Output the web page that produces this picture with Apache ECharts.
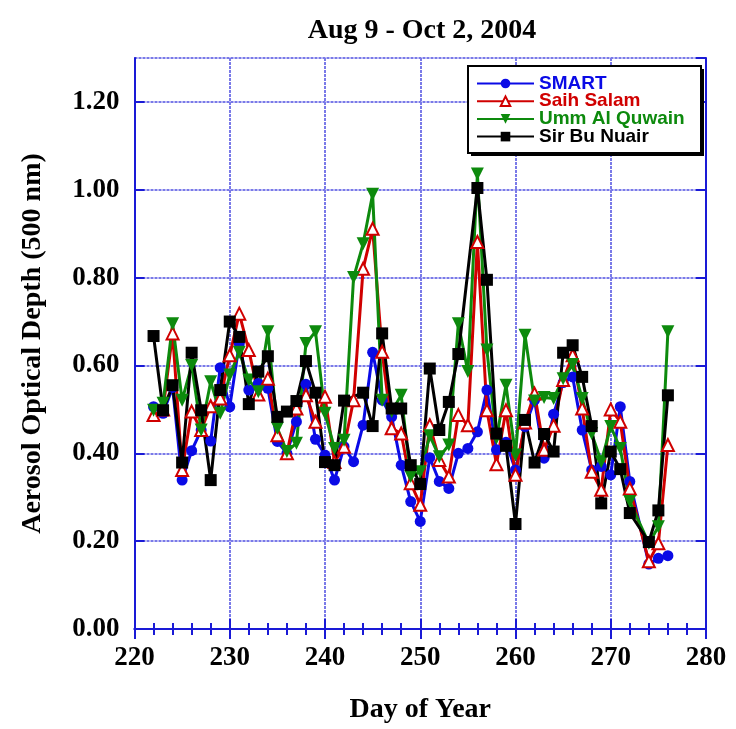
<!DOCTYPE html>
<html>
<head>
<meta charset="utf-8">
<script src="https://cdn.jsdelivr.net/npm/echarts@6/dist/echarts.min.js"></script>
<style>html,body{margin:0;padding:0;background:#fff;}#c{width:736px;height:729px;}</style>
</head>
<body>
<div id="c"></div>
<script>
var days = [222,223,224,225,226,227,228,229,230,231,232,233,234,235,236,237,238,239,240,241,242,243,244,245,246,247,248,249,250,251,252,253,254,255,256,257,258,259,260,261,262,263,264,265,266,267,268,269,270,271,272,273,274,275,276];
var smart = [0.506,0.491,0.55,0.339,0.406,0.453,0.428,0.595,0.506,0.65,0.544,0.559,0.548,0.427,0.40,0.472,0.557,0.432,0.396,0.339,0.415,0.381,0.464,0.63,0.521,0.483,0.373,0.29,0.245,0.39,0.336,0.32,0.40,0.411,0.449,0.544,0.408,0.425,0.362,0.461,0.521,0.389,0.489,0.561,0.574,0.453,0.362,0.37,0.351,0.506,0.336,null,0.148,0.161,0.167];
var saihSalam = [0.487,0.50,0.673,0.362,0.495,0.453,0.507,0.525,0.623,0.718,0.635,0.534,0.57,0.441,0.40,0.502,0.532,0.472,0.529,0.38,0.415,0.521,0.82,0.911,0.631,0.457,0.445,0.332,0.283,0.464,0.385,0.347,0.487,0.464,0.881,0.498,0.375,0.498,0.351,0.47,0.536,0.408,0.463,0.567,0.623,0.502,0.358,0.317,0.50,0.472,0.32,null,0.154,0.195,0.419];
var ummAlQuwain = [0.498,0.514,0.695,0.521,0.60,0.453,0.563,0.491,0.578,0.63,0.567,0.54,0.677,0.457,0.404,0.423,0.65,0.677,0.491,0.411,0.43,0.80,0.877,0.99,0.521,0.495,0.532,0.347,0.358,0.44,0.392,0.419,0.695,0.586,1.036,0.635,0.434,0.555,0.396,0.669,0.519,0.527,0.525,0.57,0.602,0.525,0.445,0.381,0.461,0.411,0.29,null,0.195,0.233,0.677];
var sirBuNuair = [0.667,0.498,0.555,0.379,0.629,0.498,0.339,0.544,0.70,0.665,0.512,0.586,0.621,0.483,0.495,0.519,0.61,0.538,0.38,0.373,0.52,null,0.538,0.462,0.673,0.502,0.502,0.373,0.33,0.593,0.453,0.517,0.626,null,1.004,0.795,0.445,0.417,0.239,0.476,0.379,0.444,0.404,0.629,0.646,0.574,0.462,0.286,0.404,0.364,0.264,null,0.198,0.27,0.532];
var seriesNames = ['SMART','Saih Salam','Umm Al Quwain','Sir Bu Nuair'];
var yTicks = ['0.00','0.20','0.40','0.60','0.80','1.00','1.20'];

function pairs(vals){ return days.map(function(d,i){ return [d, vals[i]]; }); }

var BLUE='#0a0ae6', RED='#d00000', GREEN='#0d8a0d', BLACK='#000000';
var AXIS='#1a1ad6', GRID='#7a7ae8';
var chart = echarts.init(document.getElementById('c'), null, {renderer:'canvas'});
var serif = '"Liberation Serif", "Times New Roman", serif';
var tickFont = {fontFamily:serif, fontWeight:'bold', fontSize:27, color:'#000'};

chart.setOption({
  animation:false,
  backgroundColor:'#fff',
  title:{text:'Aug 9 - Oct 2, 2004', left:417, top:12, textAlign:'center',
    textStyle:{fontFamily:serif, fontWeight:'bold', fontSize:28, color:'#000'}},
  grid:{left:134.5, right:30, top:58, bottom:98, containLabel:false},
  graphic:[
    {type:'rect', z:3, shape:{x:471, y:69, width:233, height:87}, style:{fill:'#000'}},
    {type:'rect', z:3, shape:{x:468, y:66, width:233, height:87}, style:{fill:'#fff', stroke:'#000', lineWidth:2}}
  ],
  legend:{
    z:10, orient:'vertical', left:476, top:74, itemWidth:57, itemHeight:12, itemGap:-1.3, padding:0,
    textStyle:{fontFamily:'"Liberation Sans", Arial, sans-serif', fontWeight:'bold', fontSize:19, lineHeight:17.3, padding:[0,0,0,0]},
    data:[
      {name:seriesNames[0], textStyle:{color:BLUE}},
      {name:seriesNames[1], textStyle:{color:RED}},
      {name:seriesNames[2], textStyle:{color:GREEN}},
      {name:seriesNames[3], textStyle:{color:BLACK}}
    ]
  },
  xAxis:[
    {type:'value', min:220, max:280, interval:10, position:'bottom',
      name:'Day of Year', nameLocation:'middle', nameGap:67,
      nameTextStyle:{fontFamily:serif, fontWeight:'bold', fontSize:28, color:'#000'},
      axisLine:{show:true, lineStyle:{color:AXIS, width:2}},
      axisTick:{show:true, inside:true, length:10, lineStyle:{color:AXIS, width:2}},
      minorTick:{show:true, splitNumber:5, length:6, lineStyle:{color:AXIS, width:2}},
      axisLabel:Object.assign({margin:16}, tickFont),
      splitLine:{show:true, lineStyle:{color:GRID, width:2, type:[3,1]}}
    },
    {type:'value', min:220, max:280, interval:10, position:'top',
      axisLine:{show:true, lineStyle:{color:AXIS, width:2}},
      axisTick:{show:true, inside:true, length:10, lineStyle:{color:AXIS, width:2}},
      minorTick:{show:true, splitNumber:5, length:6, lineStyle:{color:AXIS, width:2}},
      axisLabel:{show:false}, splitLine:{show:false}
    }
  ],
  yAxis:[
    {type:'value', min:0, max:1.3, interval:0.2, position:'left',
      name:'Aerosol Optical Depth (500 nm)', nameLocation:'middle', nameGap:88,
      nameTextStyle:{fontFamily:serif, fontWeight:'bold', fontSize:28, color:'#000'},
      axisLine:{show:true, lineStyle:{color:AXIS, width:2}},
      axisTick:{show:true, inside:true, length:10, lineStyle:{color:AXIS, width:2}},
      axisLabel:Object.assign({margin:15, showMaxLabel:false, formatter:function(v){ var i=Math.round(v/0.2); return yTicks[i]||''; }}, tickFont),
      splitLine:{show:true, lineStyle:{color:GRID, width:2, type:[3,1]}}
    },
    {type:'value', min:0, max:1.3, interval:0.2, position:'right',
      axisLine:{show:true, lineStyle:{color:AXIS, width:2}},
      axisTick:{show:true, inside:true, length:10, lineStyle:{color:AXIS, width:2}},
      axisLabel:{show:false}, splitLine:{show:false}
    }
  ],
  series:[
    {name:seriesNames[0], type:'line', data:pairs(smart), connectNulls:true,
      symbol:'circle', symbolSize:11, lineStyle:{color:BLUE, width:3}, itemStyle:{color:BLUE}},
    {name:seriesNames[1], type:'line', data:pairs(saihSalam), connectNulls:true,
      symbol:'triangle', symbolSize:12, lineStyle:{color:RED, width:3}, itemStyle:{color:'#fff', borderColor:RED, borderWidth:2}},
    {name:seriesNames[2], type:'line', data:pairs(ummAlQuwain), connectNulls:true,
      symbol:'triangle', symbolRotate:180, symbolSize:13, lineStyle:{color:GREEN, width:3}, itemStyle:{color:GREEN}},
    {name:seriesNames[3], type:'line', data:pairs(sirBuNuair), connectNulls:true,
      symbol:'rect', symbolSize:12, lineStyle:{color:BLACK, width:3}, itemStyle:{color:BLACK}}
  ]
});
</script>
</body>
</html>
